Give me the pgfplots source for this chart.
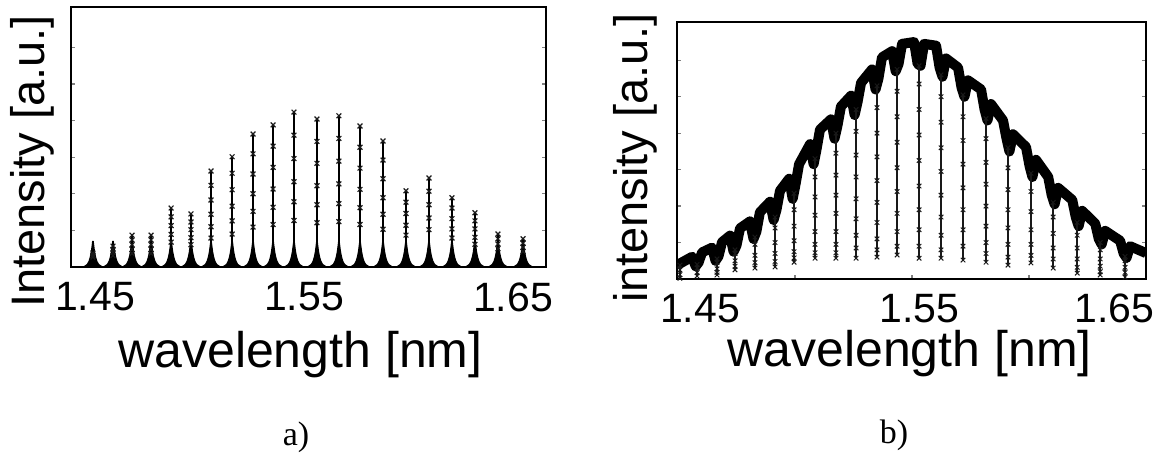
\documentclass[border=0pt]{standalone}
\usepackage{fontspec}
\setmainfont{Liberation Sans}
\newfontfamily\capfont{Liberation Serif}
\usepackage{pgfplots}
\usepackage{pgfplotstable}
\pgfplotsset{compat=1.18}

% filled Lorentzian-like foot drawn under every line of panel a
\pgfdeclareplotmark{skirt}{%
  \pgfpathmoveto{\pgfqpoint{-5.3pt}{0pt}}%
  \pgfpathlineto{\pgfqpoint{-4.0pt}{0.8pt}}%
  \pgfpathlineto{\pgfqpoint{-3.0pt}{1.5pt}}%
  \pgfpathlineto{\pgfqpoint{-2.2pt}{3.0pt}}%
  \pgfpathlineto{\pgfqpoint{-1.6pt}{5.0pt}}%
  \pgfpathlineto{\pgfqpoint{-1.1pt}{7.5pt}}%
  \pgfpathlineto{\pgfqpoint{-0.7pt}{10.5pt}}%
  \pgfpathlineto{\pgfqpoint{-0.4pt}{13pt}}%
  \pgfpathlineto{\pgfqpoint{0.4pt}{13pt}}%
  \pgfpathlineto{\pgfqpoint{0.7pt}{10.5pt}}%
  \pgfpathlineto{\pgfqpoint{1.1pt}{7.5pt}}%
  \pgfpathlineto{\pgfqpoint{1.6pt}{5.0pt}}%
  \pgfpathlineto{\pgfqpoint{2.2pt}{3.0pt}}%
  \pgfpathlineto{\pgfqpoint{3.0pt}{1.5pt}}%
  \pgfpathlineto{\pgfqpoint{4.0pt}{0.8pt}}%
  \pgfpathlineto{\pgfqpoint{5.3pt}{0pt}}%
  \pgfpathclose
  \pgfusepathqfill
}
% the same foot, lower, for the two smallest lines
\pgfdeclareplotmark{skirtsmall}{%
  \pgfpathmoveto{\pgfqpoint{-5.3pt}{0pt}}%
  \pgfpathlineto{\pgfqpoint{-4.0pt}{0.6pt}}%
  \pgfpathlineto{\pgfqpoint{-3.0pt}{1.2pt}}%
  \pgfpathlineto{\pgfqpoint{-2.2pt}{2.2pt}}%
  \pgfpathlineto{\pgfqpoint{-1.5pt}{3.6pt}}%
  \pgfpathlineto{\pgfqpoint{-0.9pt}{5.2pt}}%
  \pgfpathlineto{\pgfqpoint{-0.4pt}{6.5pt}}%
  \pgfpathlineto{\pgfqpoint{0.4pt}{6.5pt}}%
  \pgfpathlineto{\pgfqpoint{0.9pt}{5.2pt}}%
  \pgfpathlineto{\pgfqpoint{1.5pt}{3.6pt}}%
  \pgfpathlineto{\pgfqpoint{2.2pt}{2.2pt}}%
  \pgfpathlineto{\pgfqpoint{3.0pt}{1.2pt}}%
  \pgfpathlineto{\pgfqpoint{4.0pt}{0.6pt}}%
  \pgfpathlineto{\pgfqpoint{5.3pt}{0pt}}%
  \pgfpathclose
  \pgfusepathqfill
}

% panel a: line positions and heights
\pgfplotstableread{
x      h     base
1.4490 0.38  0
1.4586 0.57  0
1.4677 0.87  0
1.4768 0.87  0
1.4864 1.61  0
1.4959 1.45  0
1.5055 2.62  0
1.5156 3.01  0
1.5256 3.63  0
1.5352 3.88  0
1.5452 4.23  0
1.5562 4.04  0
1.5667 4.13  0
1.5768 3.85  0
1.5878 3.44  0
1.5988 2.08  0
1.6098 2.43  0
1.6208 1.89  0
1.6318 1.48  0
1.6428 0.90  0
1.6548 0.77  0
}\peaksA

% panel a: sample marks along the lines
\pgfplotstableread{
x y
1.4490 0.38
1.4490 0.32
1.4490 0.27
1.4586 0.57
1.4586 0.48
1.4586 0.40
1.4586 0.31
1.4677 0.87
1.4677 0.74
1.4677 0.61
1.4677 0.48
1.4677 0.37
1.4768 0.87
1.4768 0.74
1.4768 0.61
1.4768 0.48
1.4768 0.37
1.4864 1.61
1.4864 1.37
1.4864 1.13
1.4864 0.89
1.4864 0.68
1.4959 1.45
1.4959 1.23
1.4959 1.02
1.4959 0.80
1.4959 0.61
1.5055 2.62
1.5055 2.23
1.5055 1.83
1.5055 1.44
1.5055 1.10
1.5055 0.79
1.5156 3.01
1.5156 2.56
1.5156 2.11
1.5156 1.66
1.5156 1.26
1.5156 0.90
1.5256 3.63
1.5256 3.09
1.5256 2.54
1.5256 2.00
1.5256 1.52
1.5256 1.09
1.5352 3.88
1.5352 3.30
1.5352 2.72
1.5352 2.13
1.5352 1.63
1.5352 1.16
1.5452 4.23
1.5452 3.60
1.5452 2.96
1.5452 2.33
1.5452 1.78
1.5452 1.27
1.5562 4.04
1.5562 3.43
1.5562 2.83
1.5562 2.22
1.5562 1.70
1.5562 1.21
1.5667 4.13
1.5667 3.51
1.5667 2.89
1.5667 2.27
1.5667 1.73
1.5667 1.24
1.5768 3.85
1.5768 3.27
1.5768 2.70
1.5768 2.12
1.5768 1.62
1.5768 1.16
1.5878 3.44
1.5878 2.92
1.5878 2.41
1.5878 1.89
1.5878 1.44
1.5878 1.03
1.5988 2.08
1.5988 1.77
1.5988 1.46
1.5988 1.14
1.5988 0.87
1.6098 2.43
1.6098 2.07
1.6098 1.70
1.6098 1.34
1.6098 1.02
1.6208 1.89
1.6208 1.61
1.6208 1.32
1.6208 1.04
1.6208 0.79
1.6318 1.48
1.6318 1.26
1.6318 1.04
1.6318 0.81
1.6318 0.62
1.6428 0.90
1.6428 0.77
1.6428 0.63
1.6428 0.50
1.6548 0.77
1.6548 0.65
1.6548 0.54
1.6548 0.42
}\marksA

% panel b: broad envelope with notches at the dips
\pgfplotstableread{
x      y
1.4389 0.38
1.4462 0.61
1.4479 0.35
1.4493 0.45
1.4510 0.73
1.4558 0.86
1.4575 0.50
1.4589 0.62
1.4606 1.01
1.4645 1.19
1.4662 0.75
1.4676 0.92
1.4693 1.39
1.4741 1.58
1.4758 1.10
1.4772 1.30
1.4789 1.83
1.4838 2.12
1.4855 1.62
1.4869 1.90
1.4886 2.42
1.4930 2.75
1.4947 2.20
1.4961 2.60
1.4978 3.15
1.5031 3.70
1.5048 3.15
1.5062 3.55
1.5079 4.10
1.5132 4.38
1.5149 3.85
1.5163 4.20
1.5180 4.73
1.5229 5.03
1.5246 4.50
1.5260 4.85
1.5277 5.38
1.5330 5.75
1.5347 5.20
1.5361 5.50
1.5378 6.08
1.5427 6.25
1.5444 5.70
1.5458 5.90
1.5475 6.45
1.5533 6.50
1.5550 5.90
1.5564 5.85
1.5581 6.45
1.5639 6.40
1.5656 5.80
1.5670 5.55
1.5687 6.05
1.5745 5.80
1.5762 5.25
1.5776 5.00
1.5793 5.45
1.5856 5.20
1.5873 4.65
1.5887 4.35
1.5904 4.80
1.5962 4.35
1.5979 3.85
1.5993 3.50
1.6010 3.97
1.6073 3.62
1.6090 3.10
1.6104 2.80
1.6121 3.27
1.6180 2.80
1.6197 2.30
1.6211 2.05
1.6228 2.50
1.6296 2.17
1.6313 1.70
1.6327 1.45
1.6344 1.87
1.6407 1.52
1.6424 1.10
1.6438 0.95
1.6455 1.32
1.6527 1.05
1.6544 0.70
1.6558 0.58
1.6575 0.90
1.6652 0.71
}\envB

% panel b: the dips, one block per dip, nan between blocks
\pgfplotstableread{
x      y
1.4403 0.38
1.4403 0.25
1.4403 0.12
1.4403 0.02
1.4403 nan
1.4486 0.40
1.4486 0.30
1.4486 0.18
1.4486 0.08
1.4486 nan
1.4582 0.55
1.4582 0.45
1.4582 0.28
1.4582 0.18
1.4582 0.11
1.4582 nan
1.4669 0.80
1.4669 0.70
1.4669 0.50
1.4669 0.35
1.4669 0.25
1.4669 nan
1.4765 1.15
1.4765 0.95
1.4765 0.65
1.4765 0.45
1.4765 0.30
1.4765 nan
1.4862 1.70
1.4862 1.40
1.4862 1.00
1.4862 0.70
1.4862 0.48
1.4862 0.33
1.4862 nan
1.4954 2.35
1.4954 1.90
1.4954 1.45
1.4954 1.05
1.4954 0.75
1.4954 0.58
1.4954 0.46
1.4954 nan
1.5055 3.30
1.5055 2.80
1.5055 2.25
1.5055 1.75
1.5055 1.30
1.5055 0.95
1.5055 0.72
1.5055 0.57
1.5055 nan
1.5156 4.00
1.5156 3.45
1.5156 2.85
1.5156 2.30
1.5156 1.80
1.5156 1.30
1.5156 0.95
1.5156 0.72
1.5156 0.57
1.5156 nan
1.5253 4.65
1.5253 4.05
1.5253 3.40
1.5253 2.80
1.5253 2.20
1.5253 1.65
1.5253 1.20
1.5253 0.85
1.5253 0.57
1.5253 nan
1.5354 5.30
1.5354 4.70
1.5354 4.00
1.5354 3.35
1.5354 2.70
1.5354 2.10
1.5354 1.55
1.5354 1.10
1.5354 0.80
1.5354 0.60
1.5354 nan
1.5451 5.75
1.5451 5.15
1.5451 4.45
1.5451 3.75
1.5451 3.05
1.5451 2.40
1.5451 1.80
1.5451 1.30
1.5451 0.90
1.5451 0.66
1.5451 nan
1.5557 5.85
1.5557 5.35
1.5557 4.65
1.5557 3.95
1.5557 3.25
1.5557 2.55
1.5557 1.90
1.5557 1.35
1.5557 0.90
1.5557 0.57
1.5557 nan
1.5663 5.60
1.5663 5.00
1.5663 4.30
1.5663 3.60
1.5663 2.95
1.5663 2.30
1.5663 1.70
1.5663 1.20
1.5663 0.80
1.5663 0.57
1.5663 nan
1.5769 5.05
1.5769 4.45
1.5769 3.80
1.5769 3.15
1.5769 2.50
1.5769 1.90
1.5769 1.35
1.5769 0.90
1.5769 0.52
1.5769 nan
1.5880 4.40
1.5880 3.85
1.5880 3.20
1.5880 2.60
1.5880 2.00
1.5880 1.45
1.5880 1.00
1.5880 0.70
1.5880 0.46
1.5880 nan
1.5986 3.60
1.5986 3.05
1.5986 2.45
1.5986 1.90
1.5986 1.40
1.5986 0.95
1.5986 0.60
1.5986 0.38
1.5986 nan
1.6097 2.90
1.6097 2.40
1.6097 1.85
1.6097 1.35
1.6097 0.95
1.6097 0.65
1.6097 0.44
1.6097 nan
1.6204 2.10
1.6204 1.70
1.6204 1.25
1.6204 0.85
1.6204 0.55
1.6204 0.30
1.6204 nan
1.6320 1.55
1.6320 1.20
1.6320 0.85
1.6320 0.55
1.6320 0.32
1.6320 0.16
1.6320 nan
1.6431 1.00
1.6431 0.80
1.6431 0.55
1.6431 0.35
1.6431 0.20
1.6431 0.11
1.6431 nan
1.6551 0.62
1.6551 0.50
1.6551 0.32
1.6551 0.18
1.6551 0.05
}\dipsB

\begin{document}
\begin{tikzpicture}
\path[use as bounding box] (0,0) rectangle (580.5pt,227pt);
\pgfplotsset{
  panel/.style={
    scale only axis, anchor=south west,
    axis line style={line width=1.2pt},
    ymin=0, ytick={1,2,3,4,5,6}, yticklabels={},
    tick align=inside, major tick length=1.8pt,
    ytick style={line width=0.6pt},
    xticklabels={1.45,1.55,1.65},
    xticklabel style={font=\fontsize{20.5}{21}\selectfont, inner sep=0pt, anchor=north},
    label style={inner sep=0pt, anchor=center},
    xlabel={wavelength [nm]},
    xlabel style={font=\fontsize{25}{30}\selectfont},
    ylabel style={font=\fontsize{23.5}{28}\selectfont},
  },
}
\begin{axis}[panel,
  at={(35.5pt,93.5pt)}, width=237.5pt, height=130pt,
  xmin=1.4385, xmax=1.6658, ymax=7.1,
  xtick={1.45,1.55,1.65}, xtick style={draw=none},
  xticklabel style={yshift=-7.5pt},
  ylabel={Intensity [a.u.]},
  xlabel style={at={(axis description cs:0.483,-0.335)}},
  ylabel style={at={(axis description cs:-0.081,0.406)}},
]
  \addplot[black, ycomb, line width=1.1pt] table[x=x, y=h] {\peaksA};
  \addplot[black, only marks, mark=skirt] table[x=x, y=base, skip rows between index={0}{2}] {\peaksA};
  \addplot[black, only marks, mark=skirtsmall] table[x=x, y=base, skip rows between index={2}{21}] {\peaksA};
  \addplot[black!90, only marks, mark=x, mark size=1.7pt,
    mark options={line width=0.6pt}] table {\marksA};
\end{axis}

\begin{axis}[panel,
  at={(338.5pt,87.5pt)}, width=234.5pt, height=128.5pt,
  xmin=1.4389, xmax=1.6652, ymax=7.05,
  xtick={1.4958,1.5523,1.6087}, xticklabels={}, xtick pos=bottom,
  xtick style={line width=0.6pt},
  extra x ticks={1.45,1.556,1.65},
  extra x tick labels={1.45,1.55,1.65},
  extra x tick style={major tick length=0pt},
  xticklabel style={yshift=-7.3pt},
  ylabel={intensity [a.u.]},
  xlabel style={at={(axis description cs:0.496,-0.29)}},
  ylabel style={at={(axis description cs:-0.0896,0.471)}},
]
  \addplot[black, line width=5pt, line join=round] table {\envB};
  \addplot[black!90, line width=0.8pt, unbounded coords=jump,
    mark=x, mark size=1.6pt, mark options={line width=0.5pt}] table {\dipsB};
\end{axis}

\node[font=\capfont\fontsize{17}{20}\selectfont] at (148pt,8.5pt) {a)};
\node[font=\capfont\fontsize{17}{20}\selectfont] at (447pt,9.5pt) {b)};
\end{tikzpicture}
\end{document}
